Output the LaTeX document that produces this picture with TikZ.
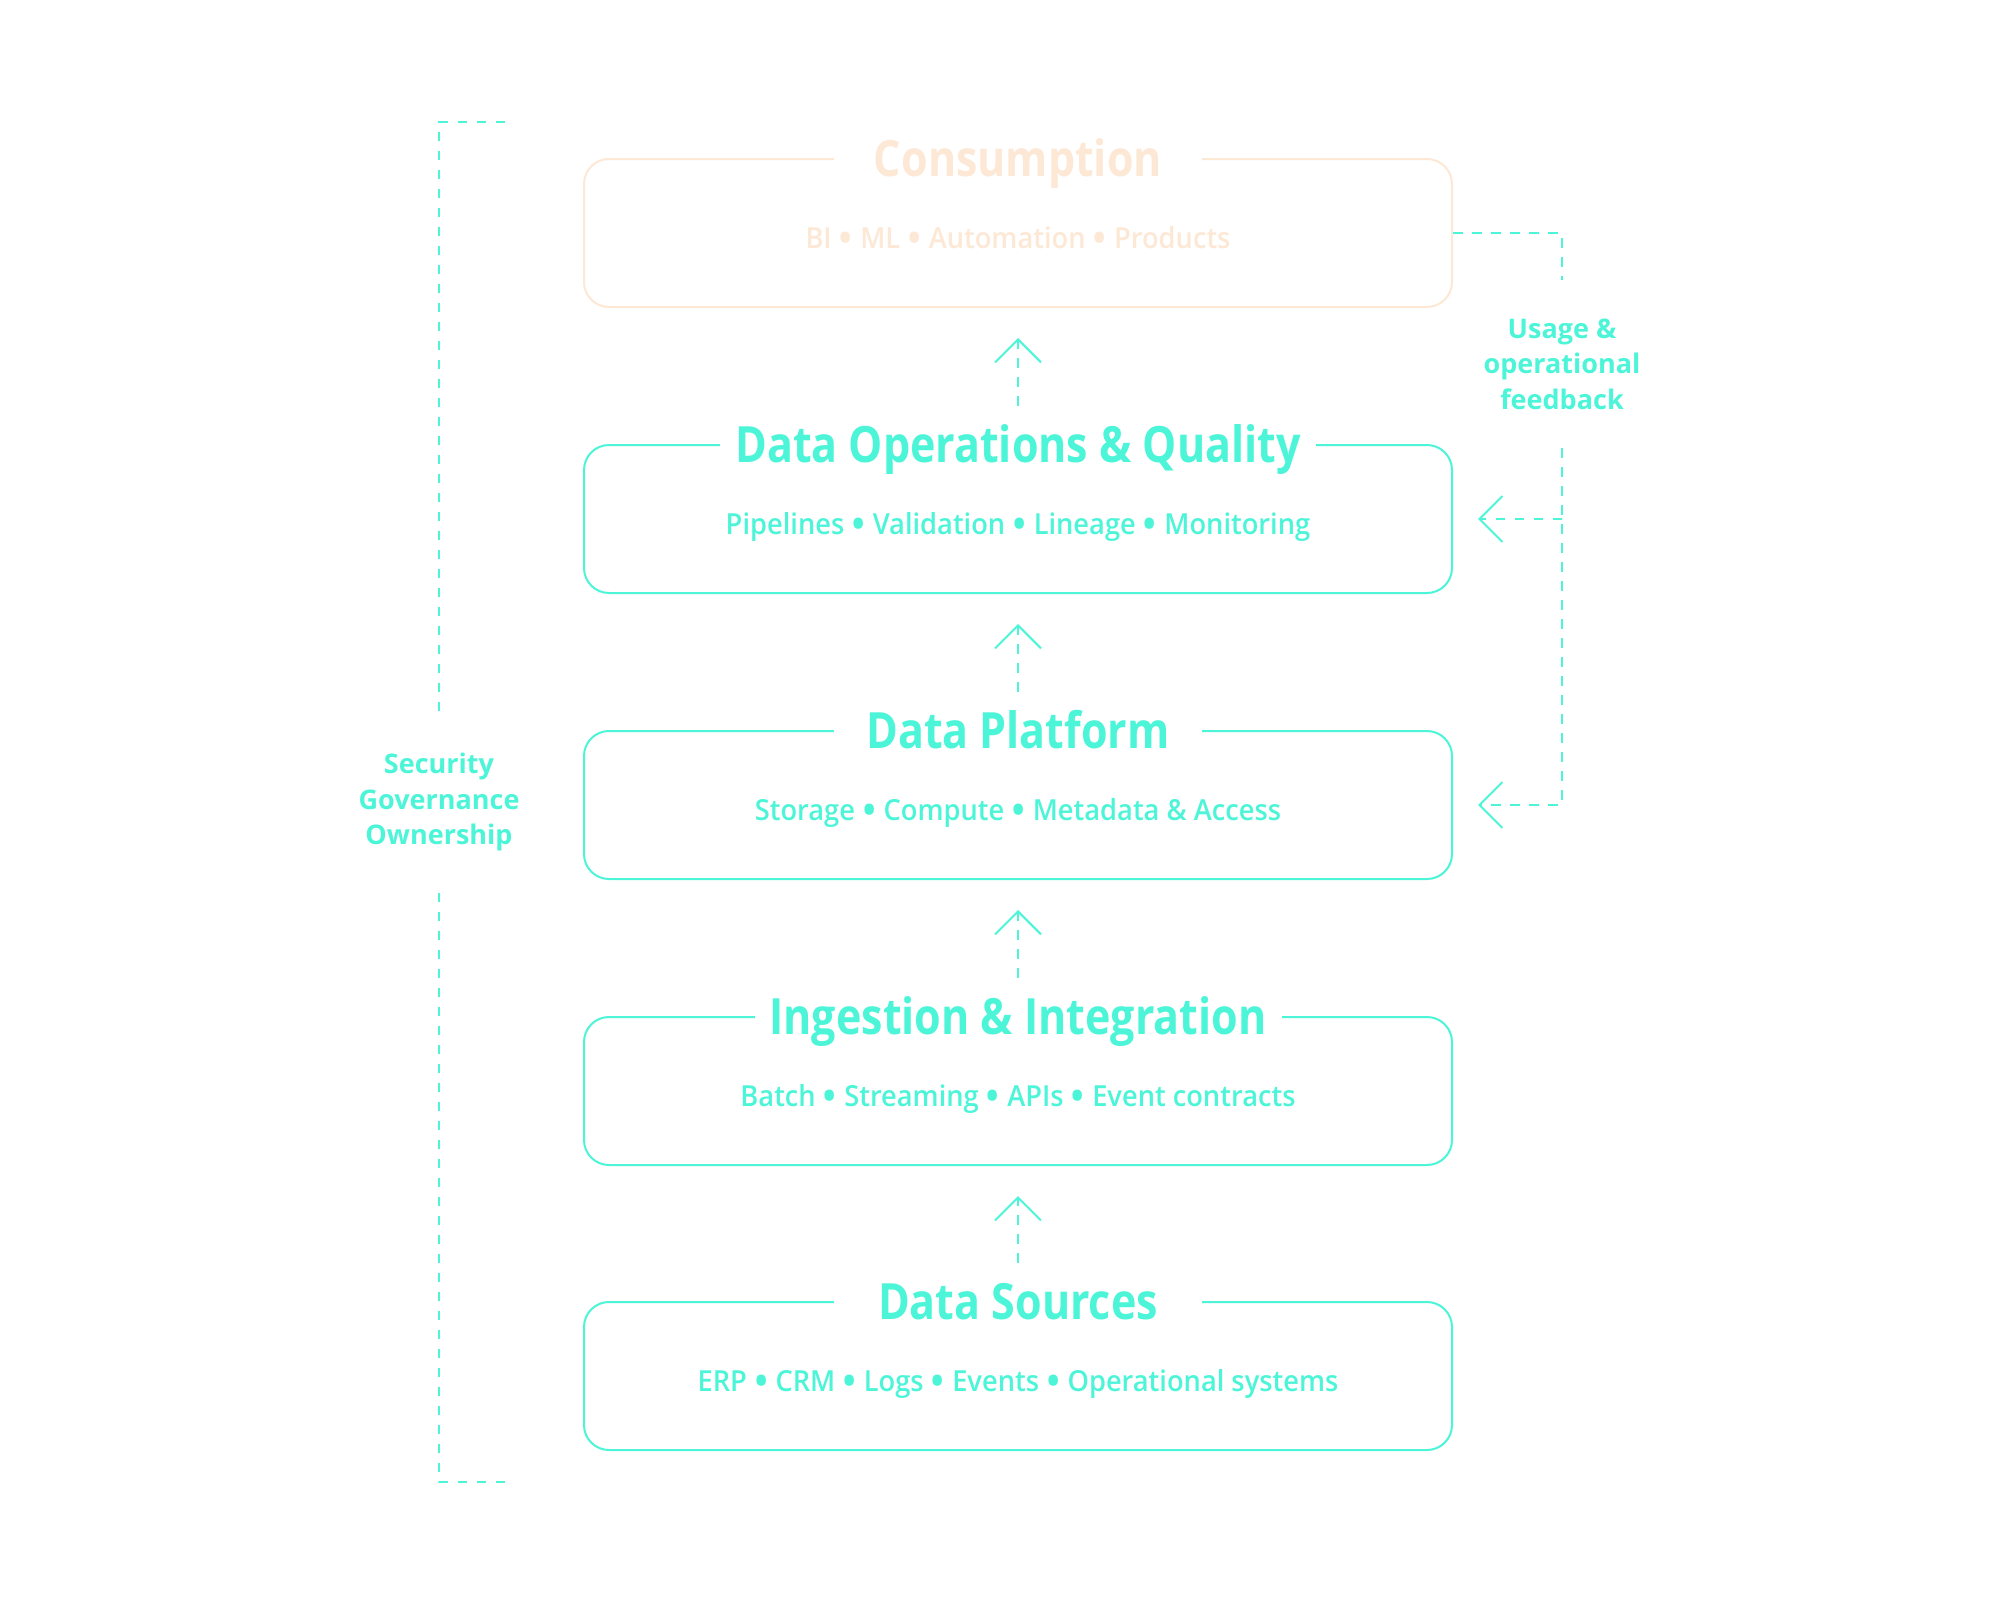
\documentclass[tikz,border=0pt]{standalone}
\usepackage{fontspec}
\usepackage{graphicx}
\setmainfont{Open Sans}
\usetikzlibrary{arrows.meta,positioning}

\newfontfamily\titlefont{Open Sans}[FakeStretch=0.86]
\IfFontExistsTF{Open Sans SemiBold}
  {\newfontfamily\itemfont{Open Sans SemiBold}[FakeStretch=0.94]}
  {\IfFontExistsTF{Open Sans Semibold}
    {\newfontfamily\itemfont{Open Sans Semibold}[FakeStretch=0.94]}
    {\newfontfamily\itemfont{Open Sans}[FakeBold=1.6]}}

\definecolor{aqua}{RGB}{77,245,216}
\definecolor{peach}{RGB}{253,232,214}

\newcommand\titlesize{\fontsize{50}{60}\selectfont}
\newcommand\itemsize{\fontsize{29}{36}\selectfont}
\newcommand\sidesize{\fontsize{27}{35.5}\selectfont}
\newcommand\bul{\raisebox{-0.14em}{\scalebox{1.4}{•}}}

\tikzset{
  layer/.style={draw=#1, line width=2pt, rounded corners=25pt, minimum width=868pt, minimum height=148pt},
  layertitle/.style={fill=white, text=#1, font=\titlefont\titlesize\bfseries, inner xsep=15pt, inner ysep=0pt,
    minimum width=368pt, text height=36pt, text depth=0pt},
  items/.style={text=#1, font=\itemfont\itemsize, inner sep=0pt, text height=21pt, text depth=0pt},
  dashline/.style={draw=aqua, line width=2pt, dash pattern=on 9.5pt off 9.5pt},
  flow/.style={dashline, -{Straight Barb[length=23pt,width=46pt,line width=2pt]}},
  side/.style={text=aqua, font=\sidesize\bfseries, align=center, inner sep=0pt}
}

\begin{document}
\begin{tikzpicture}[x=1pt,y=-1pt]
   \fill[white] (0,0) rectangle (2000,1606);
   \useasboundingbox (0,0) rectangle (2000,1606);

   % layers, top to bottom
   \node[layer=peach] (consume)  at (1018,233)  {};
   \node[layer=aqua]  (dataops)  at (1018,519)  {};
   \node[layer=aqua]  (platform) at (1018,805)  {};
   \node[layer=aqua]  (ingest)   at (1018,1091) {};
   \node[layer=aqua]  (sources)  at (1018,1376) {};

   \node[layertitle=peach] (consume-t)  at (consume.north)  {Consumption};
   \node[layertitle=aqua]  (dataops-t)  at (dataops.north)  {Data Operations \& Quality};
   \node[layertitle=aqua]  (platform-t) at (platform.north) {Data Platform};
   \node[layertitle=aqua]  (ingest-t)   at (ingest.north)   {Ingestion \& Integration};
   \node[layertitle=aqua]  (sources-t)  at (sources.north)  {Data Sources};

   \node[items=peach] (consume-i)  at ([yshift=-5pt]consume.center)  {BI \bul{} ML \bul{} Automation \bul{} Products};
   \node[items=aqua]  (dataops-i)  at ([yshift=-5pt]dataops.center)  {Pipelines \bul{} Validation \bul{} Lineage \bul{} Monitoring};
   \node[items=aqua]  (platform-i) at ([yshift=-5pt]platform.center) {Storage \bul{} Compute \bul{} Metadata \& Access};
   \node[items=aqua]  (ingest-i)   at ([yshift=-5pt]ingest.center)   {Batch \bul{} Streaming \bul{} APIs \bul{} Event contracts};
   \node[items=aqua]  (sources-i)  at ([yshift=-5pt]sources.center)  {ERP \bul{} CRM \bul{} Logs \bul{} Events \bul{} Operational systems};

   % upward flow
   \draw[flow] ([yshift=20pt]dataops-t.north)  -- ([yshift=-30pt]consume.south);
   \draw[flow] ([yshift=20pt]platform-t.north) -- ([yshift=-30pt]dataops.south);
   \draw[flow] ([yshift=20pt]ingest-t.north)   -- ([yshift=-30pt]platform.south);
   \draw[flow] ([yshift=20pt]sources-t.north)  -- ([yshift=-30pt]ingest.south);

   % feedback loop
   \node[side, minimum height=168pt] (fb) at (1562,364) {Usage \&\\operational\\feedback};
   \draw[dashline] (consume.east) -| (fb.north);
   \draw[flow] (fb.south) |- ([xshift=25pt]platform.east);
   \draw[flow] (fb.south |- dataops.east) -- ([xshift=25pt]dataops.east);

   % governance bracket
   \node[side, minimum height=181pt] (gov) at (439,802) {Security\\Governance\\Ownership};
   \coordinate (govtop) at (508,122);
   \coordinate (govbot) at (510,1482);
   \draw[dashline] (gov.north) |- (govtop);
   \draw[dashline] (gov.south) |- (govbot);
\end{tikzpicture}
\end{document}
